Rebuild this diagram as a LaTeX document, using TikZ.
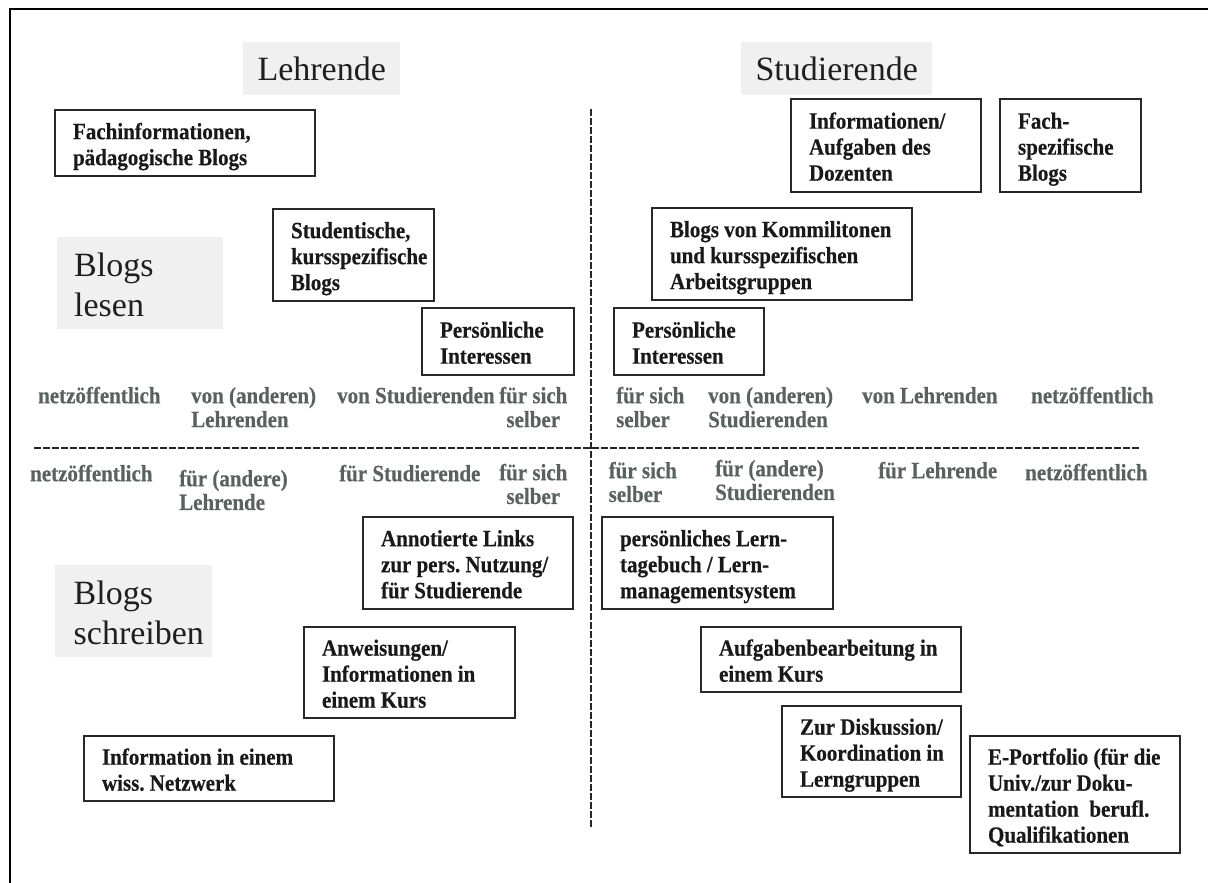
\documentclass[tikz,border=0pt]{standalone}
\usepackage{fontspec}
\setmainfont{Liberation Serif}
\newfontfamily\boxfont[FakeStretch=0.9,FakeBold=0.4]{Liberation Serif}
\usetikzlibrary{fit}
\definecolor{hdrfill}{RGB}{239,240,239}
\definecolor{lblgray}{RGB}{90,98,96}
\definecolor{boxline}{RGB}{40,40,40}
\definecolor{boxtext}{RGB}{25,25,25}
\frenchspacing
\newcommand{\ibox}[6]{%
  \coordinate (#1-a) at (#2,#3);
  \coordinate (#1-b) at (#4,#5);
  \node[boxst, fit=(#1-a)(#1-b)] (#1) {};
  \node[boxtxt] (#1-t) at ([xshift=18.5pt]#1.west) {#6};}
\begin{document}
\begin{tikzpicture}[x=1pt,y=-1pt,
  boxst/.style={draw=boxline, line width=1.3pt, inner sep=0pt},
  boxtxt/.style={anchor=west, inner sep=0pt, align=left, text=boxtext,
    font=\boxfont\fontsize{23.3}{26}\selectfont\bfseries, yshift=-4pt},
  lbl/.style={anchor=north west, inner sep=0pt, align=left, text=lblgray,
    font=\boxfont\fontsize{23.3}{24}\selectfont\bfseries},
  lbltight/.style={lbl, font=\boxfont\fontsize{23.3}{22}\selectfont\bfseries},
  hdr/.style={fill=hdrfill, draw=none, inner sep=0pt, anchor=north west,
    font=\fontsize{34}{38}\selectfont, text=black!88},
  hdrtxt/.style={anchor=north west, inner sep=0pt, align=left,
    font=\fontsize{34}{40}\selectfont, text=black!88},
  axis/.style={dash pattern=on 6.5pt off 2.5pt, line width=1.8pt, black!85},
  frame/.style={line width=2.5pt, black}]
\useasboundingbox (0,0) rectangle (1208,883);
% frame
\draw[frame] (10,883) -- (10,9) -- (1208,9);
% axes
\coordinate (vt) at (591,109);
\coordinate (vb) at (591,827);
\coordinate (hl) at (34,448);
\coordinate (hr) at (1139,448);
\draw[axis] (vt) -- (vb);
\draw[axis, line width=1.5pt] (hl) -- (hr);
% headers
\node[hdr, minimum width=157pt, minimum height=53pt] (lehr) at (243,42) {Lehrende};
\node[hdr, minimum width=191pt, minimum height=53pt] (stud) at (741,42) {Studierende};
\node[hdr, minimum width=166pt, minimum height=92pt] (lesenbg) at (57,237) {};
\node[hdrtxt] (lesen) at (74,276-28) {\strut Blogs\\\strut lesen};
\node[hdr, minimum width=157pt, minimum height=92pt] (schreibbg) at (55,565) {};
\node[hdrtxt] (schreib) at (73.5,604-28) {\strut Blogs\\\strut schreiben};
% boxes top
\ibox{fach}{55}{110}{315}{176}{\strut Fachinformationen,\\\strut pädagogische Blogs}
\ibox{studb}{273}{209}{434}{301}{\strut Studentische,\\\strut kursspezifische\\\strut Blogs}
\ibox{persl}{422}{308}{574}{375}{\strut Persönliche\\\strut Interessen}
\ibox{info}{791}{99}{981}{192}{\strut Informationen/\\\strut Aufgaben des\\\strut Dozenten}
\ibox{fachsp}{1000}{99}{1141}{192}{\strut Fach-\\\strut spezifische\\\strut Blogs}
\ibox{komm}{652}{208}{912}{300}{\strut Blogs von Kommilitonen\\\strut und kursspezifischen\\\strut Arbeitsgruppen}
\ibox{persr}{614}{308}{764}{375}{\strut Persönliche\\\strut Interessen}
% boxes bottom
\ibox{annot}{363}{517}{573}{609}{\strut Annotierte Links\\\strut zur pers. Nutzung/\\\strut für Studierende}
\ibox{anw}{304}{627}{515}{718}{\strut Anweisungen/\\\strut Informationen in\\\strut einem Kurs}
\ibox{infnet}{84}{736}{334}{801}{\strut Information in einem\\\strut wiss. Netzwerk}
\ibox{lern}{602}{517}{833}{609}{\strut persönliches Lern-\\\strut tagebuch / Lern-\\\strut managementsystem}
\ibox{aufg}{701}{627}{961}{692}{\strut Aufgabenbearbeitung in\\\strut einem Kurs}
\ibox{disk}{782}{706}{961}{797}{\strut Zur Diskussion/\\\strut Koordination in\\\strut Lerngruppen}
\ibox{eport}{970}{736}{1180}{853}{\strut E-Portfolio (für die\\\strut Univ./zur Doku-\\\strut mentation~ berufl.\\\strut Qualifikationen}
% gray labels, row 1 (reading)
\node[lbl] (l1a) at (38,403-16.8) {\strut netzöffentlich};
\node[lbl] (l1b) at (191,403-16.8) {\strut von (anderen)\\\strut Lehrenden};
\node[lbl] (l1c) at (337,403-16.8) {\strut von Studierenden};
\node[lbl, align=center] (l1d) at (499,403-16.8) {\strut für sich\\\strut selber};
\node[lbl] (r1a) at (616,403-16.8) {\strut für sich\\\strut selber};
\node[lbl] (r1b) at (708,403-16.8) {\strut von (anderen)\\\strut Studierenden};
\node[lbl] (r1c) at (862,403-16.8) {\strut von Lehrenden};
\node[lbl] (r1d) at (1031,403-16.8) {\strut netzöffentlich};
% gray labels, row 2 (writing)
\node[lbl] (l2a) at (30,481-16.8) {\strut netzöffentlich};
\node[lbltight] (l2b) at (179,485-15.4) {\strut für (andere)\\\strut Lehrende};
\node[lbl] (l2c) at (339,481-16.8) {\strut für Studierende};
\node[lbltight, align=center] (l2d) at (499,479-15.4) {\strut für sich\\\strut selber};
\node[lbltight] (r2a) at (608.5,477-15.4) {\strut für sich\\\strut selber};
\node[lbltight] (r2b) at (715,475-15.4) {\strut für (andere)\\\strut Studierenden};
\node[lbl] (r2c) at (878,478-16.8) {\strut für Lehrende};
\node[lbl] (r2d) at (1025,480-16.8) {\strut netzöffentlich};
\end{tikzpicture}
\end{document}
